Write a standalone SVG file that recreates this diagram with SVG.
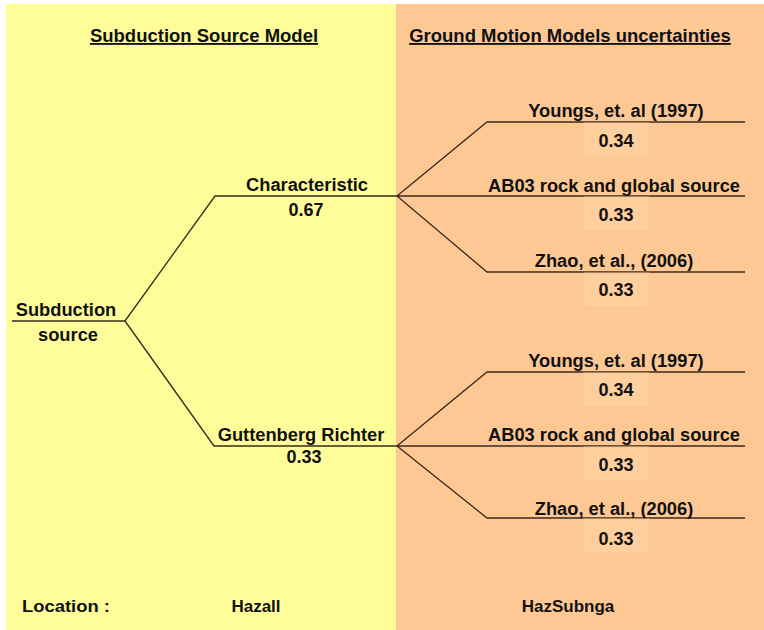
<svg xmlns="http://www.w3.org/2000/svg" width="764" height="630" viewBox="0 0 764 630">
<style>
text{font-family:"Liberation Sans",Arial,sans-serif;font-weight:bold;fill:#111;text-anchor:middle}
.t{font-size:18.5px;text-decoration:underline}
.l{font-size:18.3px}
.v{font-size:18px}
.f{font-size:17px}
.c{stroke:#3a2a1a;stroke-width:1.3;fill:none}
.box{fill:#ffcf9e;stroke:#f8c895;stroke-width:0.8}
</style>
<rect x="0" y="0" width="764" height="630" fill="#ffffff"/>
<rect x="6" y="4" width="390" height="626" fill="#fffd9a"/>
<rect x="396" y="4" width="368" height="626" fill="#fec895"/>
<g id="headers">
<text class="t" x="204" y="42">Subduction Source Model</text>
<text class="t" x="570" y="42">Ground Motion Models uncertainties</text>
</g>
<g id="connectors">
<path class="c" d="M12,321 H125 L215,196 H397 M125,321 L214,446 H397"/>
<path class="c" d="M397,196 L487,122 H745 M397,196 H745 M397,196 L487,272 H745"/>
<path class="c" d="M397,446 L487,372 H745 M397,446 H745 M397,446 L487,518 H745"/>
</g>
<g id="root"><text class="l" x="66" y="316">Subduction</text><text class="l" x="68" y="341">source</text></g>
<g id="characteristic"><text class="l" x="307" y="191">Characteristic</text><text class="v" x="306" y="216">0.67</text></g>
<g id="gr"><text class="l" x="301" y="441">Guttenberg Richter</text><text class="v" x="304" y="463">0.33</text></g>
<g id="c-youngs"><text class="l" x="616" y="117">Youngs, et. al (1997)</text><rect class="box" x="584" y="123" width="65" height="34"/><text class="v" x="616" y="147">0.34</text></g>
<g id="c-ab03"><text class="l" x="614" y="192">AB03 rock and global source</text><rect class="box" x="584" y="197" width="65" height="34"/><text class="v" x="616" y="221">0.33</text></g>
<g id="c-zhao"><text class="l" x="614" y="267">Zhao, et al., (2006)</text><rect class="box" x="584" y="273" width="65" height="34"/><text class="v" x="616" y="296">0.33</text></g>
<g id="g-youngs"><text class="l" x="616" y="367">Youngs, et. al (1997)</text><rect class="box" x="584" y="373" width="65" height="34"/><text class="v" x="616" y="396">0.34</text></g>
<g id="g-ab03"><text class="l" x="614" y="441">AB03 rock and global source</text><rect class="box" x="584" y="447" width="65" height="34"/><text class="v" x="616" y="471">0.33</text></g>
<g id="g-zhao"><text class="l" x="614" y="515">Zhao, et al., (2006)</text><rect class="box" x="584" y="519" width="65" height="34"/><text class="v" x="616" y="545">0.33</text></g>
<g id="footer">
<text class="f" x="66" y="612" textLength="88" lengthAdjust="spacingAndGlyphs">Location :</text>
<text class="f" x="256" y="612">Hazall</text>
<text class="f" x="568" y="612">HazSubnga</text>
</g>
</svg>
